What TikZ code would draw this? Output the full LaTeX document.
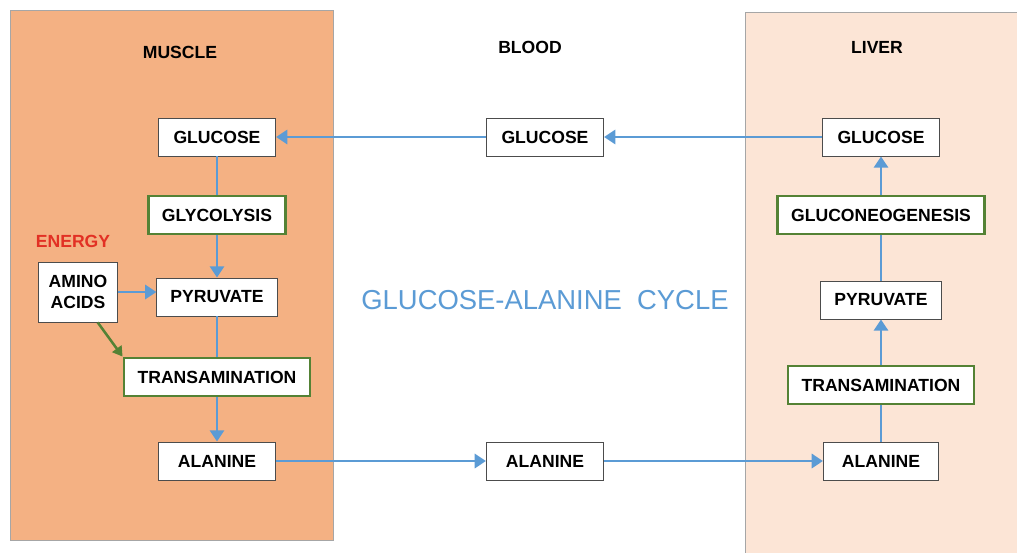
\documentclass[tikz,border=0pt]{standalone}
\usepackage{fontspec}
\setmainfont{Liberation Sans}
\usetikzlibrary{arrows.meta}
\definecolor{musclefill}{RGB}{244,177,131}
\definecolor{liverfill}{RGB}{252,229,214}
\definecolor{flowblue}{RGB}{91,155,213}
\definecolor{stepgreen}{RGB}{84,130,53}
\definecolor{energyred}{RGB}{226,48,36}
\begin{document}
\begin{tikzpicture}[x=0.025cm,y=-0.025cm,
    molbox/.style={draw=black!70, fill=white, line width=0.6pt, minimum height=0.95cm,
        inner xsep=0.34cm, font=\fontsize{12.5}{14}\selectfont\bfseries},
    procbox/.style={molbox, draw=stepgreen, line width=2pt},
    title/.style={font=\fontsize{12.5}{14}\selectfont\bfseries},
    flow/.style={flowblue, line width=2.1pt},
    flowarrow/.style={flow, -{Triangle[width=10pt,length=8pt]}},
    greenarrow/.style={stepgreen, line width=1.8pt, -{Triangle[width=8pt,length=7pt]}}]
  \useasboundingbox (0,0) rectangle (1017,552);

  % Compartments
  \fill[white] (0,0) rectangle (1017,552);
  \draw[black!35, fill=musclefill] (10,10) rectangle (333,540);
  \draw[black!35, fill=liverfill] (745,12) rectangle (1030,560);

  \node[title] (muscle) at (180,52) {MUSCLE};
  \node[title] (blood) at (530,47) {BLOOD};
  \node[title] (liver) at (877,47) {LIVER};

  % Muscle
  \node[molbox, minimum width=2.93cm] (mglucose) at (217,137) {GLUCOSE};
  \node[procbox] (glycolysis) at (217,215) {GLYCOLYSIS};
  \node[title, text=energyred] (energy) at (73,241) {ENERGY};
  \node[molbox, align=center, inner xsep=0.25cm, minimum height=1.5cm,
        font=\fontsize{12.5}{15}\selectfont\bfseries] (amino) at (78,292) {AMINO\\ACIDS};
  \node[molbox] (mpyruvate) at (217,297) {PYRUVATE};
  \node[procbox] (mtrans) at (217,377) {TRANSAMINATION};
  \node[molbox, minimum width=2.93cm] (malanine) at (217,461) {ALANINE};

  % Blood
  \node[molbox, minimum width=2.93cm] (bglucose) at (545,137) {GLUCOSE};
  \node[molbox, minimum width=2.93cm] (balanine) at (545,461) {ALANINE};
  \node[flowblue, font=\fontsize{19.5}{22}\selectfont] (cycle) at (545,300) {GLUCOSE-ALANINE\ \ CYCLE};

  % Liver
  \node[molbox, minimum width=2.93cm] (lglucose) at (881,137) {GLUCOSE};
  \node[procbox] (gluconeo) at (881,215) {GLUCONEOGENESIS};
  \node[molbox] (lpyruvate) at (881,300) {PYRUVATE};
  \node[procbox] (ltrans) at (881,385) {TRANSAMINATION};
  \node[molbox, minimum width=2.88cm] (lalanine) at (881,461) {ALANINE};

  % Muscle flow
  \draw[flow] (mglucose) -- (glycolysis);
  \draw[flowarrow] (glycolysis) -- (mpyruvate);
  \draw[flow] (mpyruvate) -- (mtrans);
  \draw[flowarrow] (mtrans) -- (malanine);
  \draw[flowarrow] (amino.east) -- (amino.east -| mpyruvate.west);
  \draw[greenarrow] ([xshift=-0.5cm]amino.south east) -- (mtrans.north west);

  % Exchange through the blood
  \draw[flowarrow] (lglucose) -- (bglucose);
  \draw[flowarrow] (bglucose) -- (mglucose);
  \draw[flowarrow] (malanine) -- (balanine);
  \draw[flowarrow] (balanine) -- (lalanine);

  % Liver flow
  \draw[flow] (lalanine) -- (ltrans);
  \draw[flowarrow] (ltrans) -- (lpyruvate);
  \draw[flow] (lpyruvate) -- (gluconeo);
  \draw[flowarrow] (gluconeo) -- (lglucose);
\end{tikzpicture}
\end{document}
